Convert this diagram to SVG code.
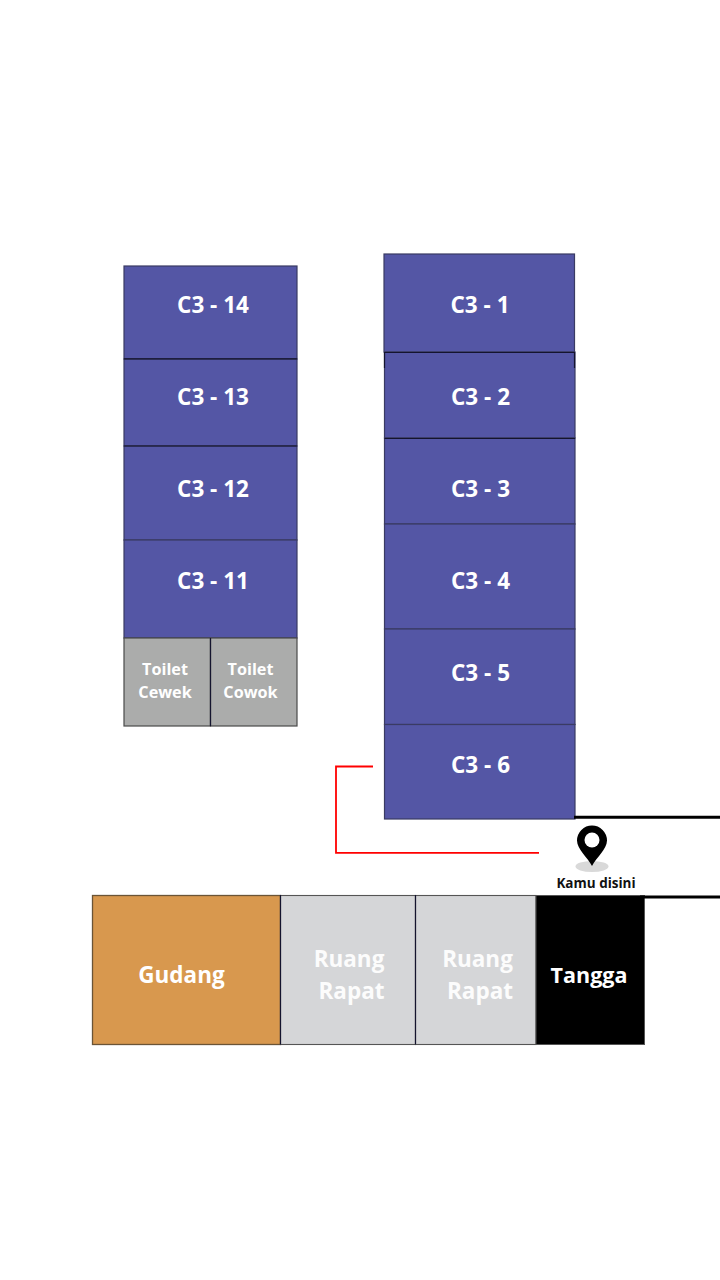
<svg xmlns="http://www.w3.org/2000/svg" width="720" height="1280" viewBox="0 0 720 1280">
<style>
.r{fill:#5456a5;stroke:#3a3b63;stroke-width:1.2}
.t{fill:#abacab;stroke:#4a4a4a;stroke-width:1.2}
.m{fill:#d5d6d8;stroke:#555;stroke-width:1.1}
.d{fill:none;stroke:#14142e;stroke-width:1.2}
text{font-family:"Open Sans","Noto Sans",sans-serif;font-weight:700;fill:#fff;text-anchor:middle}
.l{font-size:22.5px}
.s{font-size:16.2px}
.b{font-size:22.5px}
.w{fill:#fcfcfc}
.c{fill:none}
</style>
<g id="c3-14"><rect class="r" x="124" y="266" width="173" height="93"/><text class="l" x="213" y="313">C3 - 14</text></g>
<g id="c3-13"><rect class="r" x="124" y="359" width="173" height="87"/><text class="l" x="213" y="405">C3 - 13</text></g>
<g id="c3-12"><rect class="r" x="124" y="446" width="173" height="94"/><text class="l" x="213" y="497">C3 - 12</text></g>
<g id="c3-11"><rect class="r" x="124" y="540" width="173" height="98"/><text class="l" x="213" y="589">C3 - 11</text></g>
<g id="toilet-cewek"><rect class="t" x="124" y="638" width="86.500" height="88"/><text class="s" x="165" y="675">Toilet</text><text class="s" x="165" y="698">Cewek</text></g>
<g id="toilet-cowok"><rect class="t" x="210.500" y="638" width="86.500" height="88"/><text class="s" x="250.500" y="675">Toilet</text><text class="s" x="250.500" y="698">Cowok</text></g>
<g id="c3-1"><rect class="r" x="384" y="254" width="190.500" height="98"/><text class="l" x="480" y="313">C3 - 1</text></g>
<g id="c3-2"><rect class="r" x="384.500" y="352" width="190.500" height="86"/><text class="l" x="480.500" y="405">C3 - 2</text></g>
<g id="c3-3"><rect class="r" x="384.500" y="438" width="190.500" height="86"/><text class="l" x="480.500" y="497">C3 - 3</text></g>
<g id="c3-4"><rect class="r" x="384.500" y="524" width="190.500" height="105"/><text class="l" x="480.500" y="589">C3 - 4</text></g>
<g id="c3-5"><rect class="r" x="384.500" y="629" width="190.500" height="95.500"/><text class="l" x="480.500" y="681">C3 - 5</text></g>
<g id="c3-6"><rect class="r" x="384.500" y="724.500" width="190.500" height="94.500"/><text class="l" x="480.500" y="773">C3 - 6</text></g>
<g id="gudang"><rect x="92.500" y="895.500" width="188" height="149" fill="#d8984e" stroke="#6b5436" stroke-width="1.300"/><text class="b" x="181.500" y="983">Gudang</text></g>
<g id="ruang-rapat-1"><rect class="m" x="280.500" y="895.500" width="135" height="149"/><text class="b w" x="349" y="967">Ruang</text><text class="b w" x="351.500" y="999">Rapat</text></g>
<g id="ruang-rapat-2"><rect class="m" x="415.500" y="895.500" width="120.500" height="149"/><text class="b w" x="477.500" y="967">Ruang</text><text class="b w" x="480" y="999">Rapat</text></g>
<g id="tangga"><rect x="536" y="895.500" width="108.500" height="149" fill="#000" stroke="#555" stroke-width="1"/><text class="b" x="589" y="983" style="font-size:21.500px">Tangga</text></g>
<g id="connectors">
<path class="d" d="M124 358.800H297M384.500 352.500H575M384.500 352V368M574.500 352V368M124 446H297M384.500 438.500H575M280.500 895V1044.500M415.500 895V1044.500M210.500 638V726"/>
<path class="c" d="M574 817.300H720" stroke="#000" stroke-width="3"/>
<path class="c" d="M640 897H720" stroke="#000" stroke-width="3"/>
<path class="c" d="M373 766.500H336V852.800H539" stroke="#f00" stroke-width="1.800"/>
</g>
<g id="kamu-disini">
<ellipse cx="592" cy="866.500" rx="16.500" ry="5.500" fill="#d9d9d9"/>
<path d="M592 866C588 858 577 849 577 840.500A15 15 0 0 1 607 840.500C607 849 596 858 592 866Z" fill="#000"/>
<circle cx="592" cy="840" r="7.500" fill="#fff"/>
<text x="596" y="888" style="font-size:13.500px;fill:#111">Kamu disini</text>
</g>
</svg>
